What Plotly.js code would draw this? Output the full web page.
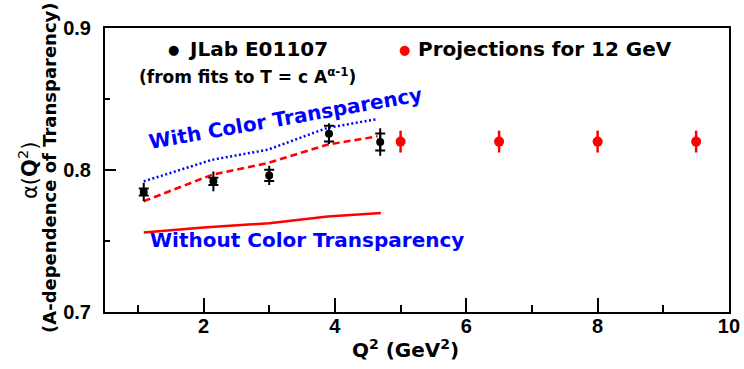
<!DOCTYPE html>
<html>
<head>
<meta charset="utf-8">
<script src="https://cdn.plot.ly/plotly-3.0.1.min.js"></script>
<style>html,body{margin:0;padding:0;background:#fff;}#chart{width:744px;height:369px;}</style>
</head>
<body>
<div id="chart"></div>
<script>
// JLab E01107 data
const jlabQ2 = [1.09, 2.15, 3.0, 3.91, 4.69];
const jlabAlpha = [0.7845, 0.792, 0.7962, 0.8256, 0.8197];
const jlabErrTotal = [0.0065, 0.007, 0.0068, 0.0073, 0.0097];
const jlabErrInner = [0.0025, 0.0025, 0.0039, 0.0055, 0.006];

// 12 GeV projections
const projQ2 = [5.0, 6.5, 8.0, 9.5];
const projAlpha = [0.82, 0.82, 0.82, 0.82];
const projErr = [0.0077, 0.0077, 0.0077, 0.0077];

// Model curves
const ctBlueQ2 = [1.09, 2.13, 2.98, 3.88, 4.65];
const ctBlueAlpha = [0.792, 0.8072, 0.8143, 0.8296, 0.8359];
const ctRedQ2 = [1.09, 2.13, 2.98, 3.88, 4.65];
const ctRedAlpha = [0.778, 0.7967, 0.8049, 0.8178, 0.8237];
const noCtQ2 = [1.09, 2.0, 3.0, 3.89, 4.7];
const noCtAlpha = [0.7559, 0.7595, 0.7625, 0.7673, 0.7697];

const xTickVals = [2, 4, 6, 8, 10];
const xTickText = ['2', '4', '6', '8', '10'];
const yTickVals = [0.7, 0.8, 0.9];
const yTickText = ['0.7', '0.8', '0.9'];

const FONT = 'Liberation Sans, Arial, sans-serif';
const WIDE = 'DejaVu Sans, Liberation Sans, sans-serif';

const traces = [
  {x: noCtQ2, y: noCtAlpha, mode: 'lines', line: {color: '#ff0000', width: 2.5}, showlegend: false},
  {x: ctBlueQ2, y: ctBlueAlpha, mode: 'lines', line: {color: '#0000ff', width: 2.5, dash: '2px,2.5px'}, showlegend: false},
  {x: ctRedQ2, y: ctRedAlpha, mode: 'lines', line: {color: '#ff0000', width: 2.5, dash: '7px,4px'}, showlegend: false},
  {x: jlabQ2, y: jlabAlpha, mode: 'markers', marker: {color: '#000', size: 8},
   error_y: {type: 'data', array: jlabErrTotal, visible: true, color: '#000', thickness: 2, width: 0}, showlegend: false},
  {x: jlabQ2, y: jlabAlpha, mode: 'markers', marker: {color: '#000', size: 8, opacity: 0},
   error_y: {type: 'data', array: jlabErrInner, visible: true, color: '#000', thickness: 2, width: 5}, showlegend: false},
  {x: projQ2, y: projAlpha, mode: 'markers', marker: {color: '#ff0000', size: 10},
   error_y: {type: 'data', array: projErr, visible: true, color: '#ff0000', thickness: 2.5, width: 0}, showlegend: false}
];

const px = p => (p - 105) / 624;
const py = p => (312 - p) / 284;
const bold = arr => arr.map(s => '<b>' + s + '</b>');

const layout = {
  width: 744, height: 369,
  margin: {l: 105, r: 15, t: 28, b: 57},
  paper_bgcolor: '#fff', plot_bgcolor: '#fff',
  font: {family: FONT, color: '#000'},
  showlegend: false,
  xaxis: {
    range: [0.5, 10.0001], tickmode: 'array', tickvals: xTickVals, ticktext: bold(xTickText),
    ticks: 'inside', ticklen: 14, tickwidth: 2, tickcolor: '#000',
    minor: {dtick: 1, tick0: 0, ticks: 'inside', ticklen: 7, tickwidth: 2, tickcolor: '#000'},
    showline: true, linewidth: 2, linecolor: '#000', mirror: true, showgrid: false, zeroline: false,
    tickfont: {size: 20, family: FONT, weight: 'bold'}, ticklabelstandoff: -5
  },
  yaxis: {
    range: [0.7, 0.9], tickmode: 'array', tickvals: yTickVals, ticktext: bold(yTickText),
    ticks: 'inside', ticklen: 11, tickwidth: 2, tickcolor: '#000',
    minor: {dtick: 0.05, tick0: 0.7, ticks: 'inside', ticklen: 5, tickwidth: 2, tickcolor: '#000'},
    showline: true, linewidth: 2, linecolor: '#000', mirror: true, showgrid: false, zeroline: false,
    tickfont: {size: 20, family: FONT, weight: 'bold'}, ticklabelstandoff: 8
  },
  annotations: [
    {xref: 'paper', yref: 'paper', x: px(173), y: py(49), text: '●', showarrow: false, xanchor: 'center', yanchor: 'middle', font: {size: 13, color: '#000', family: 'DejaVu Sans'}},
    {xref: 'paper', yref: 'paper', x: px(186), y: py(49), text: 'JLab E01107', showarrow: false, xanchor: 'left', yanchor: 'middle', font: {size: 20, weight: 'bold', family: WIDE}},
    {xref: 'paper', yref: 'paper', x: px(247), y: py(76), text: '(from fits to T = c A<sup>α-1</sup>)', showarrow: false, xanchor: 'center', yanchor: 'middle', font: {size: 17, weight: 'bold', family: WIDE}},
    {xref: 'paper', yref: 'paper', x: px(404), y: py(49), text: '●', showarrow: false, xanchor: 'center', yanchor: 'middle', font: {size: 13, color: '#ff0000', family: 'DejaVu Sans'}},
    {xref: 'paper', yref: 'paper', x: px(416), y: py(49), text: 'Projections for 12 GeV', showarrow: false, xanchor: 'left', yanchor: 'middle', font: {size: 20, weight: 'bold', family: WIDE}},
    {xref: 'x', yref: 'y', x: 3.25, y: 0.8368, text: 'With Color Transparency', showarrow: false, textangle: -10, font: {size: 20, weight: 'bold', color: '#0000ff', family: WIDE}},
    {xref: 'x', yref: 'y', x: 3.57, y: 0.7505, text: 'Without Color Transparency', showarrow: false, font: {size: 20, weight: 'bold', color: '#0000ff', family: WIDE}},
    {xref: 'paper', yref: 'paper', x: px(405), y: py(349), text: 'Q<sup>2</sup> (GeV<sup>2</sup>)', showarrow: false, xanchor: 'center', yanchor: 'middle', font: {size: 20, weight: 'bold', family: WIDE}},
    {xref: 'paper', yref: 'paper', x: px(28), y: py(171), text: 'α(<b>Q</b><sup>2</sup>)', showarrow: false, textangle: -90, xanchor: 'center', yanchor: 'middle', font: {size: 21, family: WIDE}},
    {xref: 'paper', yref: 'paper', x: px(49), y: py(168), text: '(A-dependence of Transparency)', showarrow: false, textangle: -90, xanchor: 'center', yanchor: 'middle', font: {size: 18, weight: 'bold', family: WIDE}}
  ]
};

Plotly.newPlot('chart', traces, layout, {staticPlot: true, displayModeBar: false});
</script>
</body>
</html>
